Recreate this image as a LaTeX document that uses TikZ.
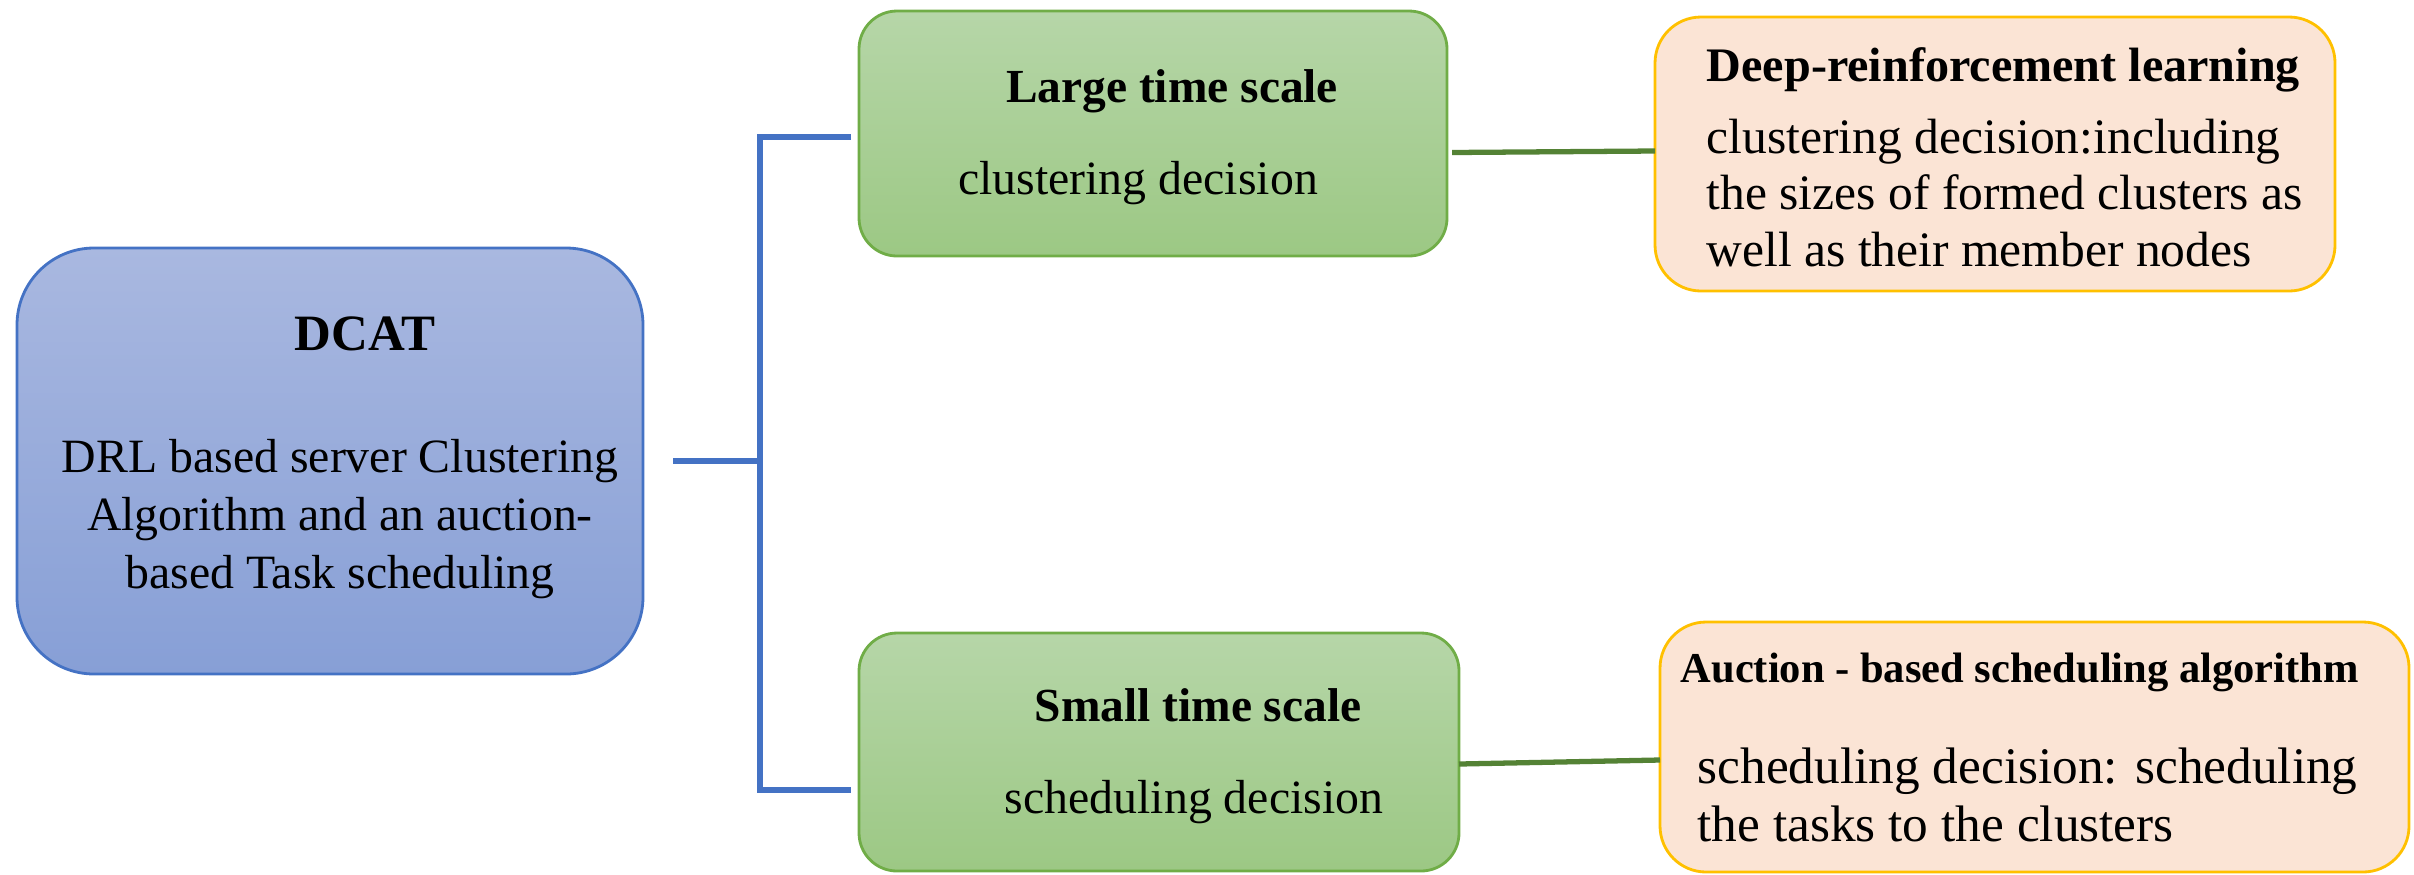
\documentclass[tikz,border=0pt]{standalone}
\usepackage{fontspec}
\setmainfont{Liberation Serif}
\usetikzlibrary{positioning,calc}
\definecolor{dcatTop}{HTML}{A9B8E0}
\definecolor{dcatBot}{HTML}{879FD6}
\definecolor{dcatEdge}{HTML}{4472C4}
\definecolor{scaleTop}{HTML}{B6D6A8}
\definecolor{scaleBot}{HTML}{9CC884}
\definecolor{scaleEdge}{HTML}{70AD47}
\definecolor{algFill}{HTML}{FBE4D5}
\definecolor{algEdge}{HTML}{FFC000}
\definecolor{brkBlue}{HTML}{4472C4}
\definecolor{lnkGreen}{HTML}{548235}
\tikzset{
  boxbase/.style={draw,inner sep=0pt,outer sep=0pt,line width=0.8pt},
  dcatbox/.style={boxbase,rounded corners=0.77cm,draw=dcatEdge,top color=dcatTop,bottom color=dcatBot},
  scalebox/.style={boxbase,rounded corners=0.38cm,draw=scaleEdge,top color=scaleTop,bottom color=scaleBot},
  algbox/.style={boxbase,rounded corners=0.46cm,draw=algEdge,fill=algFill},
  ttl/.style={inner sep=0pt,font=\bfseries\fontsize{13.5}{16.2}\selectfont},
  txt/.style={inner sep=0pt,align=left,font=\fontsize{13.6}{16.2}\selectfont},
  bracketline/.style={line width=1.5pt,draw=brkBlue},
  linkline/.style={line width=1.5pt,draw=lnkGreen},
}

\begin{document}
\begin{tikzpicture}
  \useasboundingbox (0,0) rectangle (24.14,-8.74);
  % boxes
  \node[dcatbox,minimum width=6.26cm,minimum height=4.26cm] (dcat) at (3.30,-4.61) {};
  \node[scalebox,minimum width=5.88cm,minimum height=2.45cm] (large) at (11.53,-1.335) {};
  \node[scalebox,minimum width=6.00cm,minimum height=2.38cm] (small) at (11.59,-7.52) {};
  \node[algbox,minimum width=6.80cm,minimum height=2.74cm] (drl) at (19.95,-1.54) {};
  \node[algbox,minimum width=7.49cm,minimum height=2.50cm] (auction) at (20.345,-7.47) {};
  % texts
  \node[ttl,font=\bfseries\fontsize{14.5}{17}\selectfont] (dcatT) at (3.65,-3.34) {DCAT};
  \node[txt,align=center,font=\fontsize{13.6}{16.6}\selectfont] (dcatB) at (3.40,-5.19)
    {DRL based server Clustering\\Algorithm and an auction-\\based Task scheduling};
  \node[ttl] (largeT) at (11.72,-0.91) {Large time scale};
  \node[txt] (largeB) at (11.38,-1.835) {clustering decision};
  \node[ttl] (smallT) at (11.98,-7.05) {Small time scale};
  \node[txt] (smallB) at (11.94,-8.02) {scheduling decision};
  \node[ttl,anchor=west,font=\bfseries\fontsize{13.7}{16.2}\selectfont] (drlT) at (17.06,-0.695) {Deep-reinforcement learning};
  \node[txt,anchor=west,font=\fontsize{14.1}{16.2}\selectfont] (drlB) at (17.06,-1.93)
    {clustering decision:including\\the sizes of formed clusters as\\well as their member nodes};
  \node[ttl,anchor=west,font=\bfseries\fontsize{12.1}{14}\selectfont] (aucT) at (16.80,-6.72) {Auction - based scheduling algorithm};
  \node[txt,anchor=west,font=\fontsize{14.6}{16.4}\selectfont] (aucB) at (16.97,-7.95)
    {scheduling decision: scheduling\\the tasks to the clusters};
  % connectors
  \coordinate (fork) at (7.60,-4.61);
  \draw[bracketline] ([xshift=0.30cm]dcat.east) -- (fork);
  \draw[bracketline] ([xshift=-0.08cm,yshift=-0.035cm]large.west) -| (fork)
    |- ([xshift=-0.08cm,yshift=-0.38cm]small.west);
  \draw[linkline] ([xshift=0.05cm,yshift=-0.19cm]large.east) -- ([yshift=0.03cm]drl.west);
  \draw[linkline] ([xshift=0.0cm,yshift=-0.12cm]small.east) -- ([yshift=-0.13cm]auction.west);
\end{tikzpicture}
\end{document}
